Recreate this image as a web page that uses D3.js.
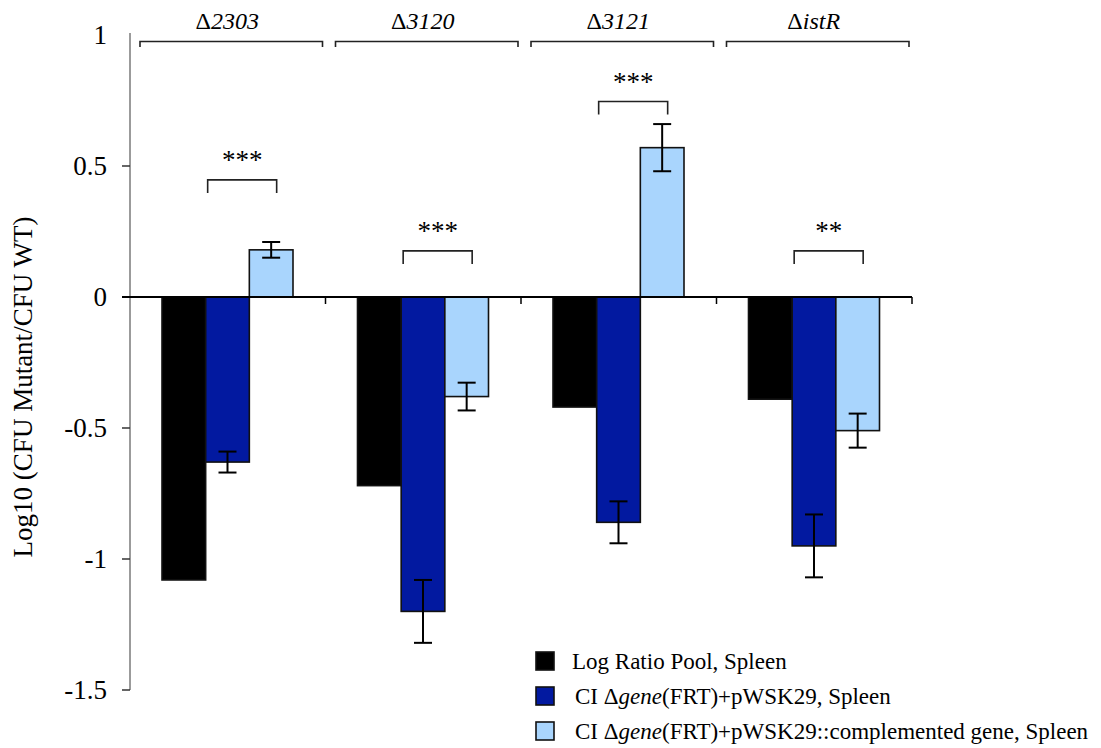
<!DOCTYPE html>
<html>
<head>
<meta charset="utf-8">
<script src="https://cdn.jsdelivr.net/npm/d3@7/dist/d3.min.js"></script>
<style>
  body { margin: 0; background: #fff; }
  svg { display: block; font-family: "Liberation Serif", "Times New Roman", serif; }
</style>
</head>
<body>
<svg id="chart" width="1101" height="748"></svg>
<script>
// ---- data ----
const groups = ["2303", "3120", "3121", "istR"];
const seriesNames = [
  "Log Ratio Pool, Spleen",
  "CI \u0394gene(FRT)+pWSK29, Spleen",
  "CI \u0394gene(FRT)+pWSK29::complemented gene, Spleen"
];
const poolValues = [-1.08, -0.72, -0.42, -0.39];
const ciValues = [-0.63, -1.20, -0.86, -0.95];
const ciErrors = [0.04, 0.12, 0.08, 0.12];
const compValues = [0.18, -0.38, 0.57, -0.51];
const compErrors = [0.03, 0.053, 0.09, 0.065];
const sigLabels = ["***", "***", "***", "**"];
const sigLevels = [0.447, 0.176, 0.746, 0.176];
const yTicks = [1, 0.5, 0, -0.5, -1, -1.5];
const yTickLabels = ["1", "0.5", "0", "-0.5", "-1", "-1.5"];
const colors = ["#000000", "#0219a0", "#a9d5fd"];

// ---- layout ----
const svg = d3.select("#chart");
const x0 = d3.scaleBand().domain(groups).range([130, 912]).paddingInner(0).paddingOuter(0);
const y = d3.scaleLinear().domain([-1.5, 1]).range([690, 35]);
const inner = d3.scaleBand().domain([0, 1, 2]).range([32, 163]);

// y axis
svg.append("line").attr("x1", 130).attr("x2", 130).attr("y1", y(1) - 2).attr("y2", y(-1.5))
  .attr("stroke", "#7a7a7a").attr("stroke-width", 1.5);
yTicks.forEach((t, i) => {
  if (t !== 1) {
    svg.append("line").attr("x1", 122).attr("x2", 130).attr("y1", y(t)).attr("y2", y(t))
      .attr("stroke", "#333").attr("stroke-width", 1.5);
  }
  svg.append("text").attr("x", 107).attr("y", y(t) + 9).attr("text-anchor", "end")
    .attr("font-size", 27).attr("fill", "#000").text(yTickLabels[i]);
});

// y label
svg.append("text").attr("transform", `translate(32, ${387}) rotate(-90)`)
  .attr("text-anchor", "middle").attr("font-size", 27).text("Log10 (CFU Mutant/CFU WT)");

// bars
const series = [poolValues, ciValues, compValues];
const errs = [null, ciErrors, compErrors];
series.forEach((vals, s) => {
  svg.append("g").selectAll("rect").data(groups).join("rect")
    .attr("x", (g) => x0(g) + inner(s))
    .attr("width", inner.bandwidth())
    .attr("y", (g, i) => y(Math.max(0, vals[i])))
    .attr("height", (g, i) => Math.abs(y(vals[i]) - y(0)))
    .attr("fill", colors[s]).attr("stroke", "#111").attr("stroke-width", 1.6);
});

// error bars
[1, 2].forEach((s) => {
  const vals = series[s], e = errs[s];
  groups.forEach((g, i) => {
    const cx = x0(g) + inner(s) + inner.bandwidth() / 2;
    const gEl = svg.append("g").attr("stroke", "#000").attr("stroke-width", 2);
    gEl.append("line").attr("x1", cx).attr("x2", cx).attr("y1", y(vals[i] + e[i])).attr("y2", y(vals[i] - e[i]));
    [vals[i] + e[i], vals[i] - e[i]].forEach((v) => {
      gEl.append("line").attr("x1", cx - 9).attr("x2", cx + 9).attr("y1", y(v)).attr("y2", y(v));
    });
  });
});

// zero line
svg.append("line").attr("x1", 122).attr("x2", 912).attr("y1", y(0)).attr("y2", y(0))
  .attr("stroke", "#000").attr("stroke-width", 2);
groups.forEach((g) => {
  const xe = x0(g) + x0.bandwidth();
  svg.append("line").attr("x1", xe).attr("x2", xe).attr("y1", y(0)).attr("y2", y(0) + 7)
    .attr("stroke", "#000").attr("stroke-width", 1.5);
});

// significance brackets
groups.forEach((g, i) => {
  const xa = x0(g) + inner(1) + 2;
  const xb = xa + 69;
  const yt = y(sigLevels[i]);
  svg.append("path").attr("d", `M${xa},${yt + 13}V${yt}H${xb}V${yt + 13}`)
    .attr("fill", "none").attr("stroke", "#222").attr("stroke-width", 1.6);
  svg.append("text").attr("x", (xa + xb) / 2).attr("y", yt - 11).attr("text-anchor", "middle")
    .attr("font-size", 27).text(sigLabels[i]);
});

// group brackets on top
groups.forEach((g) => {
  const xa = x0(g) + 10, xb = x0(g) + x0.bandwidth() - 3;
  svg.append("path").attr("d", `M${xa},47V41.5H${xb}V47`)
    .attr("fill", "none").attr("stroke", "#222").attr("stroke-width", 1.6);
  const t = svg.append("text").attr("x", (xa + xb) / 2 - 4).attr("y", 29).attr("text-anchor", "middle")
    .attr("font-size", 24);
  t.append("tspan").text("\u0394");
  t.append("tspan").attr("font-style", "italic").text(g);
});

// legend
const legY = [661, 696, 731];
seriesNames.forEach((name, s) => {
  svg.append("rect").attr("x", 536).attr("y", legY[s] - 9).attr("width", 18).attr("height", 18)
    .attr("fill", colors[s]).attr("stroke", "#111").attr("stroke-width", 1.6);
  const t = svg.append("text").attr("x", s === 0 ? 572 : 575).attr("y", legY[s] + 8).attr("font-size", 23);
  if (s === 0) {
    t.text(name);
  } else {
    t.append("tspan").text("CI \u0394");
    t.append("tspan").attr("font-style", "italic").text("gene");
    t.append("tspan").text(s === 1 ? "(FRT)+pWSK29, Spleen" : "(FRT)+pWSK29::complemented gene, Spleen");
  }
});
</script>
</body>
</html>
